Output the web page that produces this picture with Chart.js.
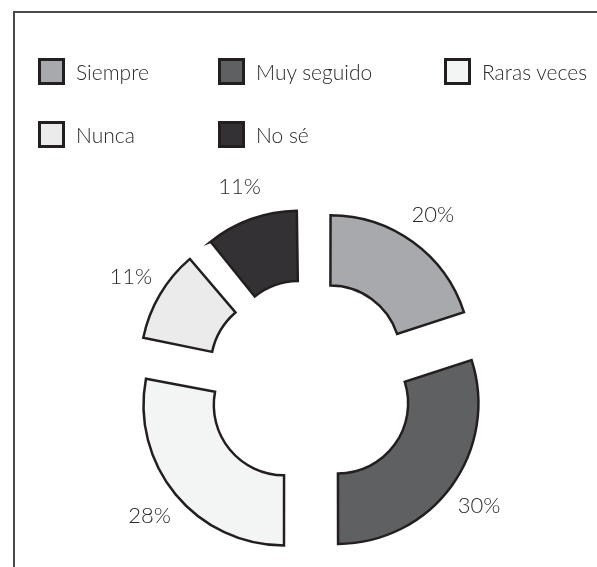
<!DOCTYPE html>
<html lang="es">
<head>
<meta charset="utf-8">
<title>Frecuencia</title>
<script src="https://cdn.jsdelivr.net/npm/chart.js@4.4.1/dist/chart.umd.min.js"></script>
<style>
  html, body { margin: 0; padding: 0; background: #fff; }
  body { width: 597px; height: 567px; position: relative; overflow: hidden; font-family: Lato, "Open Sans", sans-serif; }
  .marco { position: absolute; left: 13px; top: 11px; width: 620px; height: 620px; border-left: 2px solid #4a4a4a; border-top: 2px solid #4a4a4a; }
  #grafico { position: absolute; left: 0; top: 0; }
  .leyenda { position: absolute; left: 38px; top: 58px; display: grid; grid-template-columns: 180px 226px auto; grid-auto-rows: 63px; }
  .item { display: flex; align-items: center; height: 27px; font-size: 21px; font-weight: 300; color: #2b2b2b; white-space: nowrap; }
  .caja { width: 21px; height: 21px; border: 3px solid #231f20; margin-right: 11px; }
</style>
</head>
<body>
<div class="marco"></div>
<canvas id="grafico" width="597" height="567"></canvas>
<div class="leyenda" id="leyenda"></div>
<script>
// datos
const categorias = ['Siempre', 'Muy seguido', 'Raras veces', 'Nunca', 'No sé'];
const valores = [20, 30, 28, 11, 11];
const colores = ['#a7a9ac', '#5f6062', '#f3f4f4', '#ebebeb', '#333133'];

// separación visible de cada sector (chart.js aplica offset / 4)
const desplazamiento = 34;

// leyenda en html (3 columnas)
const leyenda = document.getElementById('leyenda');
categorias.forEach((cat, i) => {
  const item = document.createElement('div');
  item.className = 'item';
  item.innerHTML = `<span class="caja" style="background:${colores[i]}"></span><span>${cat}</span>`;
  leyenda.appendChild(item);
});

// chart.js agranda el radio de los sectores pequeños al separarlos; lo anulamos
const mismoRadio = {
  id: 'mismoRadio',
  beforeDatasetDraw(chart) {
    chart.getDatasetMeta(0).data.forEach(arc => {
      const fix = 1 - Math.sin(Math.min(Math.PI, arc.circumference));
      arc._ajuste = desplazamiento * fix;
      arc.outerRadius -= arc._ajuste;
      arc.innerRadius -= arc._ajuste;
    });
  },
  afterDatasetDraw(chart) {
    chart.getDatasetMeta(0).data.forEach(arc => {
      arc.outerRadius += arc._ajuste;
      arc.innerRadius += arc._ajuste;
    });
  }
};

// porcentajes fuera de cada sector
const etiquetasPct = {
  id: 'etiquetasPct',
  afterDatasetsDraw(chart) {
    const ctx = chart.ctx;
    const meta = chart.getDatasetMeta(0);
    ctx.save();
    ctx.font = '300 22px Lato';
    ctx.fillStyle = '#2b2b2b';
    ctx.textAlign = 'center';
    ctx.textBaseline = 'middle';
    meta.data.forEach((arc, i) => {
      const p = arc.getProps(['x', 'y', 'startAngle', 'endAngle', 'outerRadius']);
      const medio = (p.startAngle + p.endAngle) / 2;
      const dist = desplazamiento + p.outerRadius + 34;
      ctx.fillText(valores[i] + '%', p.x + Math.cos(medio) * dist, p.y + Math.sin(medio) * dist);
    });
    ctx.restore();
  }
};

new Chart(document.getElementById('grafico'), {
  type: 'doughnut',
  data: {
    labels: categorias,
    datasets: [{
      data: valores,
      backgroundColor: colores,
      borderColor: '#231f20',
      borderWidth: 2.5,
      borderJoinStyle: 'miter',
      offset: desplazamiento * 4,
      hoverOffset: desplazamiento * 4
    }]
  },
  options: {
    responsive: false,
    animation: false,
    radius: 140.6,
    cutout: '50%',
    layout: { padding: { left: 30, right: 6.4, top: 205, bottom: 5.4 } },
    plugins: {
      legend: { display: false },
      tooltip: { enabled: false }
    },
    events: []
  },
  plugins: [mismoRadio, etiquetasPct]
});
</script>
</body>
</html>
